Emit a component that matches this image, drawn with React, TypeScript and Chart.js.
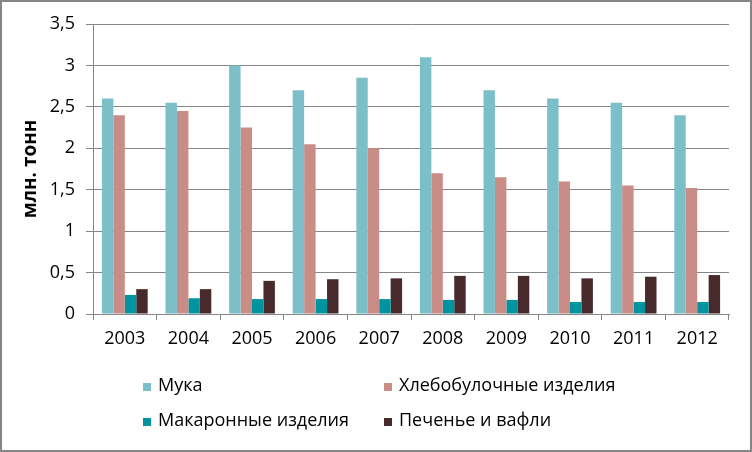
import React, { useEffect, useRef } from "react";
import { Chart, registerables } from "chart.js";

Chart.register(...registerables);

const years = ["2003", "2004", "2005", "2006", "2007", "2008", "2009", "2010", "2011", "2012"];
const flour = [2.6, 2.55, 3.0, 2.7, 2.85, 3.1, 2.7, 2.6, 2.55, 2.4];
const bakery = [2.4, 2.45, 2.25, 2.05, 2.0, 1.7, 1.65, 1.6, 1.55, 1.52];
const pasta = [0.23, 0.19, 0.18, 0.18, 0.18, 0.17, 0.17, 0.145, 0.145, 0.145];
const cookies = [0.3, 0.3, 0.4, 0.42, 0.43, 0.46, 0.46, 0.43, 0.45, 0.47];
const seriesNames = ["Мука", "Хлебобулочные изделия", "Макаронные изделия", "Печенье и вафли"];
const seriesColors = ["#7BBFC8", "#C98C86", "#0093A0", "#482A2C"];
const yAxisTitle = "млн. тонн";
const yMin = 0;
const yMax = 3.5;
const yStep = 0.5;

const FONT = "'Open Sans', 'Liberation Sans', sans-serif";
const GRID = "#868686";

const legendPlugin = {
  id: "gridLegend",
  afterDraw(chart: any) {
    const ctx = chart.ctx as CanvasRenderingContext2D;
    const cols = [141, 382];
    const rows = [385, 420];
    ctx.save();
    chart.data.datasets.forEach((ds: any, i: number) => {
      const x = cols[i % 2];
      const y = rows[Math.floor(i / 2)];
      ctx.fillStyle = ds.backgroundColor;
      ctx.fillRect(x, y - 4, 8, 8);
      ctx.fillStyle = "#000";
      ctx.font = `18px ${FONT}`;
      ctx.textBaseline = "middle";
      ctx.textAlign = "left";
      ctx.fillText(ds.label, x + 15, y - 1);
    });
    ctx.restore();
  },
};

export default function App() {
  const ref = useRef<HTMLCanvasElement | null>(null);

  useEffect(() => {
    if (!ref.current) return;
    const data = [flour, bakery, pasta, cookies];
    const chart = new Chart(ref.current, {
      type: "bar",
      data: {
        labels: years,
        datasets: data.map((d, i) => ({
          label: seriesNames[i],
          data: d,
          backgroundColor: seriesColors[i],
          borderWidth: 0,
          categoryPercentage: 0.72,
          barPercentage: 1,
        })),
      },
      options: {
        animation: false,
        responsive: false,
        layout: { padding: { top: 22, right: 21, bottom: 96, left: 0 } },
        plugins: {
          legend: { display: false },
          tooltip: { enabled: false },
        },
        scales: {
          x: {
            afterFit: (s: any) => {
              s.height = 40;
            },
            grid: {
              drawOnChartArea: false,
              drawTicks: true,
              offset: true,
              tickLength: 6,
              color: GRID,
            },
            border: { color: GRID },
            ticks: {
              color: "#000",
              font: { family: FONT, size: 18 },
              padding: 8,
              maxRotation: 0,
            },
          },
          y: {
            min: yMin,
            max: yMax,
            afterFit: (s: any) => {
              s.width = 91;
            },
            ticks: {
              stepSize: yStep,
              color: "#000",
              font: { family: FONT, size: 18 },
              padding: 11,
              callback: (v: any) => String(v).replace(".", ","),
            },
            grid: { color: GRID, tickLength: 7 },
            border: { color: GRID },
            title: {
              display: true,
              text: yAxisTitle,
              color: "#000",
              font: { family: FONT, size: 19, weight: "bold" },
              padding: { top: 17, bottom: 0 },
            },
          },
        },
      },
      plugins: [legendPlugin],
    });
    return () => chart.destroy();
  }, []);

  return (
    <div
      style={{
        position: "absolute",
        left: 0,
        top: 0,
        width: 752,
        height: 452,
        border: `2px solid ${GRID}`,
        boxSizing: "border-box",
        background: "#fff",
      }}
    >
      <canvas ref={ref} width={748} height={448} style={{ display: "block", width: 748, height: 448 }} />
    </div>
  );
}
